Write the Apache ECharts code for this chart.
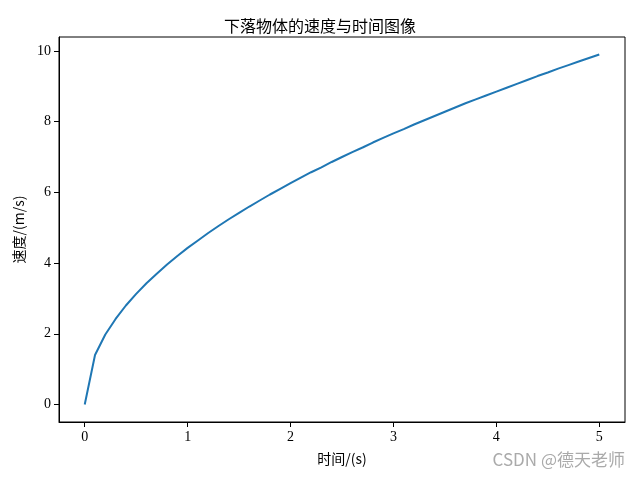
<!DOCTYPE html>
<html>
<head>
<meta charset="utf-8">
<script src="https://cdn.jsdelivr.net/npm/echarts@6/dist/echarts.min.js"></script>
<style>
  html, body { margin: 0; padding: 0; background: #fff; }
  #main { width: 640px; height: 480px; }
</style>
</head>
<body>
<div id="main"></div>
<script>
// 时间 (s)
var times = [0, 0.1, 0.2, 0.3, 0.4, 0.5, 0.6, 0.7, 0.8, 0.9,
  1.0, 1.1, 1.2, 1.3, 1.4, 1.5, 1.6, 1.7, 1.8, 1.9,
  2.0, 2.1, 2.2, 2.3, 2.4, 2.5, 2.6, 2.7, 2.8, 2.9,
  3.0, 3.1, 3.2, 3.3, 3.4, 3.5, 3.6, 3.7, 3.8, 3.9,
  4.0, 4.1, 4.2, 4.3, 4.4, 4.5, 4.6, 4.7, 4.8, 4.9, 5.0];
// 速度 (m/s)
var speeds = [0, 1.40, 1.98, 2.42, 2.80, 3.13, 3.43, 3.70, 3.96, 4.20,
  4.43, 4.64, 4.85, 5.05, 5.24, 5.42, 5.60, 5.77, 5.94, 6.10,
  6.26, 6.42, 6.57, 6.71, 6.86, 7.00, 7.14, 7.27, 7.41, 7.54,
  7.67, 7.79, 7.92, 8.04, 8.16, 8.28, 8.40, 8.52, 8.63, 8.74,
  8.85, 8.96, 9.07, 9.18, 9.29, 9.39, 9.50, 9.60, 9.70, 9.80, 9.90];
var xTicks = [0, 1, 2, 3, 4, 5];
var yTicks = [0, 2, 4, 6, 8, 10];

var pts = [];
for (var i = 0; i < times.length; i++) pts.push([times[i], speeds[i]]);

var chart = echarts.init(document.getElementById('main'));
var tickFont = { color: '#000', fontSize: 14, fontFamily: 'Liberation Serif' };
var cjk = '"Noto Sans CJK SC", sans-serif';

chart.setOption({
  animation: false,
  title: {
    text: '下落物体的速度与时间图像',
    left: 'center',
    top: 13,
    textStyle: { fontSize: 16, fontWeight: 'normal', color: '#000', fontFamily: cjk }
  },
  grid: {
    left: 59, right: 15, top: 37, bottom: 58,
    show: true, borderColor: '#000', borderWidth: 1, backgroundColor: 'transparent'
  },
  xAxis: {
    type: 'value',
    min: -0.25, max: 5.25,
    name: '时间/(s)',
    nameLocation: 'middle',
    nameGap: 30,
    nameTextStyle: { fontSize: 14, color: '#000', fontFamily: cjk },
    axisLine: { show: true, onZero: false, lineStyle: { color: '#000', width: 1 } },
    axisTick: { show: true, length: 5, customValues: xTicks, lineStyle: { color: '#000' } },
    axisLabel: Object.assign({ customValues: xTicks, margin: 8 }, tickFont),
    splitLine: { show: false }
  },
  yAxis: {
    type: 'value',
    min: -0.495, max: 10.395,
    name: '速度/(m/s)',
    nameLocation: 'middle',
    nameGap: 33,
    nameTextStyle: { fontSize: 14, color: '#000', fontFamily: cjk },
    axisLine: { show: true, onZero: false, lineStyle: { color: '#000', width: 1 } },
    axisTick: { show: true, length: 5, customValues: yTicks, lineStyle: { color: '#000' } },
    axisLabel: Object.assign({ customValues: yTicks, margin: 8 }, tickFont),
    splitLine: { show: false }
  },
  series: [{
    type: 'line',
    data: pts,
    showSymbol: false,
    lineStyle: { color: '#1f77b4', width: 2 },
    itemStyle: { color: '#1f77b4' }
  }],
  graphic: [{
    type: 'text',
    right: 15,
    top: 451,
    style: { text: 'CSDN @德天老师', fill: '#aaa', fontSize: 17, fontFamily: cjk }
  }]
});
</script>
</body>
</html>
